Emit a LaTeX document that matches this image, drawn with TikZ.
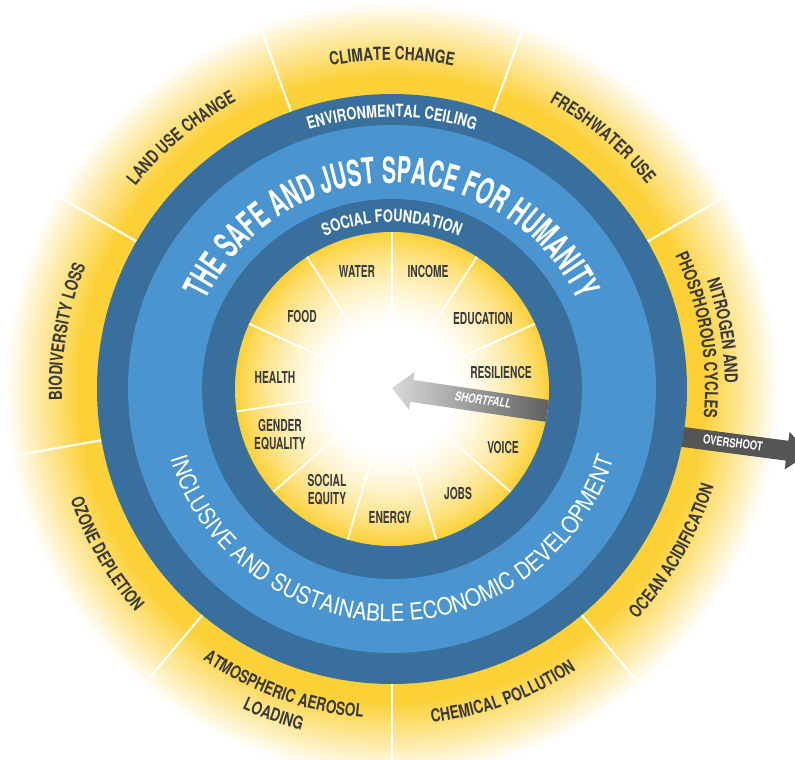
\documentclass[tikz,border=0pt]{standalone}
\usepackage{fontspec}
\usetikzlibrary{decorations.text}
\newfontfamily\fA{TeX Gyre Heros}[FakeStretch=0.62]
\newfontfamily\fT{TeX Gyre Heros}[FakeStretch=0.59]
\newfontfamily\fB{TeX Gyre Heros}[FakeStretch=0.76]
\newfontfamily\fL{TeX Gyre Heros}[FakeStretch=0.88]
\definecolor{dblue}{HTML}{386F9D}
\definecolor{lblue}{HTML}{4A95D0}
\definecolor{yel}{HTML}{FCD137}
\definecolor{tgray}{HTML}{3A3A3A}
\definecolor{agray}{HTML}{555555}
\newcommand\olab{\fB\bfseries\fontsize{18}{18}\selectfont\color{tgray}}
\newcommand\rlab{\fB\bfseries\fontsize{17}{17}\selectfont\color{white}}
\newcommand\tlab{\fT\bfseries\fontsize{36}{36}\selectfont\color{white}}
\newcommand\incl{\fL\fontsize{23.5}{24}\selectfont\color{white}}
% text on a clockwise arc (letters pointing outward)
\newcommand\cwtext[3]{%
  \pgfmathsetmacro\sa{#1+85}\pgfmathsetmacro\ea{#1-85}%
  \path[decorate,decoration={text along path,text align=center,text={#3}}]
    (\sa:#2) arc[start angle=\sa,end angle=\ea,radius=#2];}
% text on a counter-clockwise arc (letters pointing inward)
\newcommand\ccwtext[3]{%
  \pgfmathsetmacro\sa{#1-85}\pgfmathsetmacro\ea{#1+85}%
  \path[decorate,decoration={text along path,text align=center,text={#3}}]
    (\sa:#2) arc[start angle=\sa,end angle=\ea,radius=#2];}
\begin{document}
\begin{tikzpicture}[x=1pt,y=1pt,
  ilabel/.style={font=\fA\bfseries\fontsize{16.5}{18}\selectfont,text=tgray,align=center,inner sep=0pt},
  arrowlabel/.style={font=\fB\bfseries\fontsize{12.5}{13}\selectfont,text=white,inner sep=0pt},
  seg/.style={white,line width=2pt},
  iseg/.style={white,line width=1.8pt}]
\useasboundingbox (-392,-371) rectangle (403,389);
\clip (-392,-371) rectangle (403,389);
% outer glow (planetary boundaries ring)
\foreach \r in {400,399,...,296}{%
  \pgfmathtruncatemacro\p{max(0,min(100,100*(1-(\r-314)/74)))}%
  \fill[yel!\p!white] (0,0) circle (\r);}
% outer dividing lines
\foreach \a in {110,70,30,-10,-50,-90,-130,-170,150}
  \draw[seg] (\a:295) -- (\a:400);
% overshoot arrow
\begin{scope}[shift={(291,-48)},rotate=-7.5]
  \fill[agray] (-25,10) -- (105,10) -- (105,19) -- (127,0) -- (105,-19) -- (105,-10) -- (-25,-10) -- cycle;
\end{scope}
% blue rings
\fill[dblue] (0,0) circle (295);
\fill[lblue] (0,0) circle (264);
\fill[dblue] (0,0) circle (190);
% inner glow (social foundation)
\foreach \r in {157,156,...,1}{%
  \pgfmathsetmacro\q{max(0,(\r/157-0.4)/0.6)}%
  \pgfmathtruncatemacro\p{100*(0.4*\q+0.6*\q*\q)}%
  \fill[yel!\p!white] (0,0) circle (\r);}
\foreach \k in {0,...,10}
  \draw[iseg] (0,0) -- ({90-\k*360/11}:157);
% shortfall arrow
\begin{scope}
  \clip (0,0) circle (157);
  \begin{scope}[shift={(0,1)},rotate=-8.4]
    \shade[left color=black!15,middle color=black!60,right color=black!68]
      (0,0) -- (20,19) -- (20,11) -- (175,11) -- (175,-11) -- (20,-11) -- (20,-19) -- cycle;
  \end{scope}
\end{scope}
% ring texts
\cwtext{90}{272}{|\rlab|ENVIRONMENTAL CEILING}
\cwtext{90}{167}{|\rlab|SOCIAL FOUNDATION}
\cwtext{90}{206}{|\tlab|THE SAFE AND JUST SPACE FOR HUMANITY}
\ccwtext{270}{232.5}{|\incl|INCLUSIVE AND SUSTAINABLE ECONOMIC DEVELOPMENT}
% planetary boundaries
\cwtext{90}{329}{|\olab|CLIMATE CHANGE}
\cwtext{130}{327}{|\olab|LAND USE CHANGE}
\cwtext{50}{327}{|\olab|FRESHWATER USE}
\cwtext{10}{333}{|\olab|NITROGEN AND}
\cwtext{10}{313}{|\olab|PHOSPHOROUS CYCLES}
\cwtext{170}{330}{|\olab|BIODIVERSITY LOSS}
\ccwtext{-30}{336}{|\olab|OCEAN ACIDIFICATION}
\ccwtext{-70}{336}{|\olab|CHEMICAL POLLUTION}
\ccwtext{-110}{330}{|\olab|ATMOSPHERIC AEROSOL}
\ccwtext{-110}{353}{|\olab|LOADING}
\ccwtext{-150}{340}{|\olab|OZONE DEPLETION}
% social foundation labels
\node[ilabel] (water) at (-35,118) {WATER};
\node[ilabel] (income) at (36,118) {INCOME};
\node[ilabel] (education) at (91,71) {EDUCATION};
\node[ilabel] (resilience) at (109,17) {RESILIENCE};
\node[ilabel] (voice) at (111,-58) {VOICE};
\node[ilabel] (jobs) at (66,-104) {JOBS};
\node[ilabel] (energy) at (-2,-128) {ENERGY};
\node[ilabel] (equity) at (-65,-101) {SOCIAL\\EQUITY};
\node[ilabel] (gender) at (-112,-46) {GENDER\\EQUALITY};
\node[ilabel] (health) at (-117,12) {HEALTH};
\node[ilabel] (food) at (-90,73) {FOOD};
% arrow labels
\node[arrowlabel,rotate=-8.4,font=\fB\bfseries\itshape\fontsize{12.5}{13}\selectfont] (shortfall) at (91,-11) {SHORTFALL};
\node[arrowlabel,rotate=-7.5] (overshoot) at (341,-54) {OVERSHOOT};
\end{tikzpicture}
\end{document}
